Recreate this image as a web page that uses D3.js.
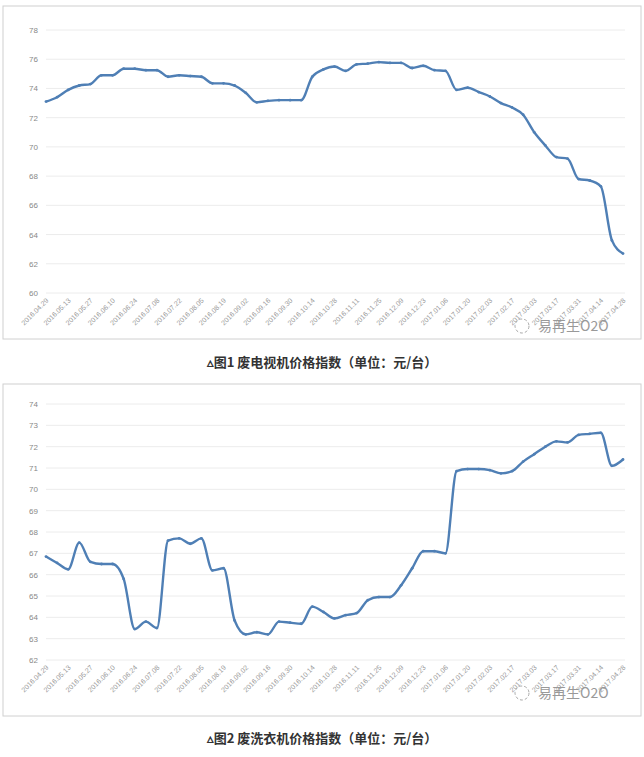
<!DOCTYPE html><html><head><meta charset="utf-8"><script src="https://cdn.jsdelivr.net/npm/d3@7"></script>
<style>body{margin:0;background:#fff}svg{display:block}</style></head><body>
<script>
const dateLabels=["2016.04.29","2016.05.13","2016.05.27","2016.06.10","2016.06.24","2016.07.08","2016.07.22","2016.08.05","2016.08.19","2016.09.02","2016.09.16","2016.09.30","2016.10.14","2016.10.28","2016.11.11","2016.11.25","2016.12.09","2016.12.23","2017.01.06","2017.01.20","2017.02.03","2017.02.17","2017.03.03","2017.03.17","2017.03.31","2017.04.14","2017.04.28"];
const tvValues=[73.1,73.4,73.9,74.2,74.3,74.9,74.9,75.35,75.35,75.25,75.25,74.8,74.9,74.85,74.8,74.35,74.35,74.2,73.7,73.05,73.15,73.2,73.2,73.2,74.8,75.3,75.5,75.2,75.65,75.7,75.8,75.75,75.75,75.4,75.55,75.25,75.2,73.9,74.05,73.75,73.45,73.0,72.7,72.2,71.0,70.1,69.3,69.2,67.8,67.7,67.3,63.6,62.7];
const wmValues=[66.85,66.55,66.25,67.5,66.6,66.5,66.5,65.8,63.45,63.8,63.5,67.6,67.7,67.45,67.7,66.2,66.3,63.85,63.2,63.3,63.2,63.8,63.75,63.7,64.5,64.25,63.95,64.1,64.2,64.8,64.95,64.95,65.5,66.3,67.1,67.1,67.0,70.85,70.95,70.95,70.9,70.75,70.85,71.3,71.65,72.0,72.25,72.2,72.55,72.6,72.65,71.1,71.4];
const tvTicks=[60,62,64,66,68,70,72,74,76,78];
const wmTicks=[62,63,64,65,66,67,68,69,70,71,72,73,74];
const captions=["图1  废电视机价格指数（单位：元/台）","图2  废洗衣机价格指数（单位：元/台）"];

const svg=d3.select("body").append("svg").attr("width",644).attr("height",757);
function chart(vals,ticks,box,yTop,yBot,cap,capY){
  svg.append("rect").attr("x",box[0]).attr("y",box[1]).attr("width",box[2]).attr("height",box[3]).attr("fill","#fff").attr("stroke","#d0d0d0");
  const x=d3.scaleLinear().domain([0,vals.length-1]).range([46,623]);
  const y=d3.scaleLinear().domain(d3.extent(ticks)).range([yBot,yTop]);
  const g=svg.append("g");
  ticks.forEach(t=>{
    g.append("line").attr("x1",46).attr("x2",625).attr("y1",y(t)).attr("y2",y(t)).attr("stroke","#ececec");
    g.append("text").attr("x",38).attr("y",y(t)+3).attr("text-anchor","end").attr("font-size",8).attr("fill","#888").attr("font-family","Liberation Sans").text(t);
  });
  dateLabels.forEach((d,i)=>{
    const xx=x(i*2);
    g.append("text").attr("transform",`translate(${xx+3},${yBot+8}) rotate(-45)`).attr("text-anchor","end").attr("font-size",7).attr("fill","#999").attr("font-family","Liberation Sans").text(d);
  });
  g.append("path").datum(vals).attr("fill","none").attr("stroke","#4f7fb5").attr("stroke-width",2.4)
   .attr("d",d3.line().curve(d3.curveMonotoneX).x((d,i)=>x(i)).y(d=>y(d)));
  g.selectAll("circle.p").data(vals).join("circle").attr("cx",(d,i)=>x(i)).attr("cy",d=>y(d)).attr("r",1.4).attr("fill","#4f7fb5");
  g.append("text").attr("x",538).attr("y",yBot+38).attr("font-size",14).attr("fill","#999").attr("font-family","Noto Sans CJK SC").text("易再生O2O");
  g.append("circle").attr("cx",522).attr("cy",yBot+33).attr("r",7).attr("fill","none").attr("stroke","#aaa").attr("stroke-dasharray","3,2");
  svg.append("text").attr("x",322).attr("y",capY).attr("text-anchor","middle").attr("font-size",13).attr("font-weight","bold").attr("fill","#333").attr("font-family","Noto Sans CJK SC").text("▵"+cap);
}
chart(tvValues,tvTicks,[3,6,638,333],30,293,captions[0],367);
chart(wmValues,wmTicks,[3,384,638,332],404,660,captions[1],743);
</script></body></html>
